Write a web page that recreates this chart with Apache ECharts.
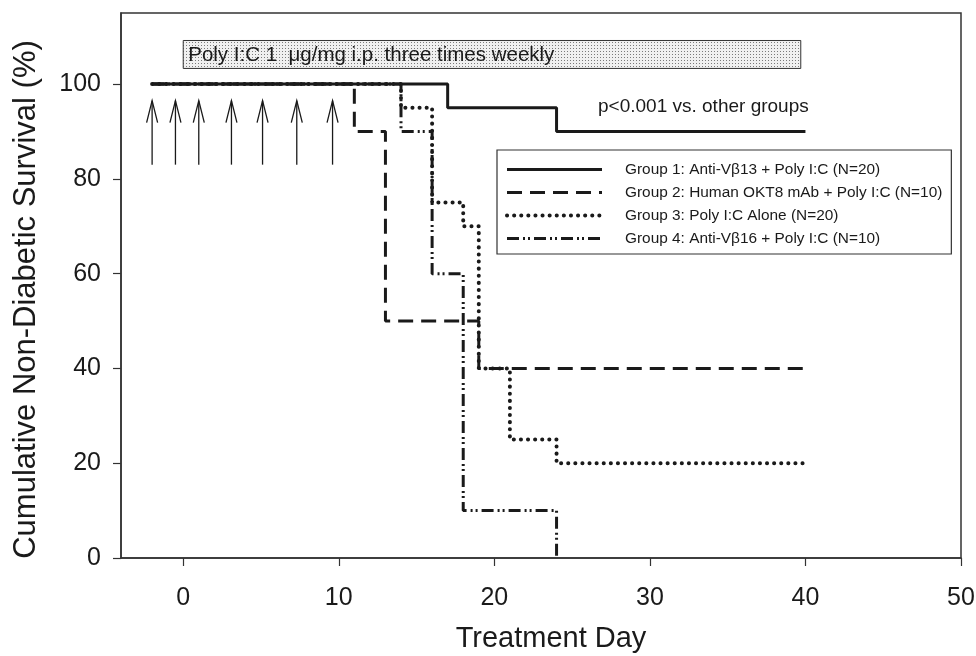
<!DOCTYPE html>
<html>
<head>
<meta charset="utf-8">
<script src="https://cdn.jsdelivr.net/npm/echarts@6/dist/echarts.min.js"></script>
<style>
  html, body { margin: 0; padding: 0; background: #fff; }
  #chart { width: 976px; height: 656px; }
</style>
</head>
<body>
<div id="chart"></div>
<script>
// Kaplan-Meier style steps: day where each level starts, and the level (%)
const groupNames = [
  'Group 1: Anti-V\u03b213 + Poly I:C (N=20)',
  'Group 2: Human OKT8 mAb + Poly I:C (N=10)',
  'Group 3: Poly I:C Alone (N=20)',
  'Group 4: Anti-V\u03b216 + Poly I:C (N=10)'
];
const g1Days = [-2, 17, 24, 40];
const g1Surv = [100, 95, 90, 90];
const g2Days = [-2, 11, 13, 19, 40];
const g2Surv = [100, 90, 50, 40, 40];
const g3Days = [-2, 14, 16, 18, 19, 21, 24, 40];
const g3Surv = [100, 95, 75, 70, 40, 25, 20, 20];
const g4Days = [-2, 14, 16, 18, 24];
const g4Surv = [100, 90, 60, 10, 0];

// poly I:C injections (arrows) and the treatment bar
const injectionDays = [-2, -0.5, 1, 3.1, 5.1, 7.3, 9.6];
const arrowRange = [83, 96.5];
const treatBar = [0, 39.7, 103.3, 109.2];
const treatText = 'Poly I:C 1  \u03bcg/mg i.p. three times weekly';
const pText = 'p<0.001 vs. other groups';

const xTicks = [0, 10, 20, 30, 40, 50];
const yTicks = [0, 20, 40, 60, 80, 100];

const ink = '#1a1a1a';
const font = 'Liberation Sans, Arial, sans-serif';

const lineStyles = [
  { color: ink, width: 3, type: 'solid' },
  { color: ink, width: 3, type: [15, 8] },
  { color: ink, width: 4, type: [0.1, 7], cap: 'round' },
  { color: ink, width: 3, type: [12, 4, 2, 3, 2, 4] }
];

function pairs(days, surv) {
  return days.map((d, i) => [d, surv[i]]);
}

// stippled fill for the treatment bar
const stipple = document.createElement('canvas');
stipple.width = 3; stipple.height = 3;
(function () {
  const c = stipple.getContext('2d');
  c.fillStyle = '#f0f0f0';
  c.fillRect(0, 0, 3, 3);
  c.fillStyle = '#7a7a7a';
  c.fillRect(0, 0, 1, 1);
})();

const chart = echarts.init(document.getElementById('chart'));

const stepSeries = [
  pairs(g1Days, g1Surv),
  pairs(g2Days, g2Surv),
  pairs(g3Days, g3Surv),
  pairs(g4Days, g4Surv)
].map((data, i) => ({
  name: groupNames[i],
  type: 'line',
  step: 'end',
  symbol: 'none',
  data: data,
  lineStyle: lineStyles[i],
  itemStyle: { color: ink },
  animation: false,
  z: 3
}));

const option = {
  animation: false,
  grid: {
    left: 121, right: 15, top: 13, bottom: 98,
    outerBoundsMode: 'none',
    show: true, borderColor: '#333', borderWidth: 1.5
  },
  xAxis: {
    type: 'value',
    min: -4, max: 50,
    name: 'Treatment Day',
    nameLocation: 'middle',
    nameGap: 66,
    nameTextStyle: { fontSize: 29, color: ink, fontFamily: font, padding: [0, 0, 0, 20] },
    splitLine: { show: false },
    axisLine: { onZero: false, lineStyle: { color: '#333', width: 1.5 } },
    axisTick: { customValues: xTicks, length: 8, lineStyle: { color: '#333', width: 1.2 } },
    axisLabel: { customValues: xTicks, margin: 28, fontSize: 25, color: ink, fontFamily: font }
  },
  yAxis: {
    type: 'value',
    min: 0, max: 115,
    name: 'Cumulative Non-Diabetic Survival (%)',
    nameLocation: 'middle',
    nameGap: 79,
    nameTextStyle: { fontSize: 31, color: ink, fontFamily: font, padding: [0, 28, 0, 0] },
    splitLine: { show: false },
    axisLine: { onZero: false, lineStyle: { color: '#333', width: 1.5 } },
    axisTick: { customValues: yTicks, length: 8, lineStyle: { color: '#333', width: 1.2 } },
    axisLabel: { customValues: yTicks, margin: 20, fontSize: 25, color: ink, fontFamily: font }
  },
  legend: {
    orient: 'vertical',
    left: 497, top: 150,
    padding: [12, 9, 8, 8],
    itemWidth: 95, itemHeight: 16, itemGap: 8,
    borderColor: '#333', borderWidth: 1.2,
    backgroundColor: '#fff',
    textStyle: { fontSize: 15.4, color: ink, fontFamily: font, padding: [0, 0, 0, 18] },
    data: groupNames.map((n, i) => ({
      name: n,
      lineStyle: lineStyles[i],
      itemStyle: { opacity: 0 }
    })),
    selectedMode: false
  },
  graphic: [{
    type: 'text',
    left: 598, top: 97,
    style: { text: pText, fontSize: 19, fill: ink, fontFamily: font }
  }],
  series: stepSeries.concat([
    {
      type: 'custom',
      name: 'treatment',
      data: [treatBar],
      renderItem: function (params, api) {
        const p0 = api.coord([api.value(0), api.value(3)]);
        const p1 = api.coord([api.value(1), api.value(2)]);
        return {
          type: 'group',
          children: [{
            type: 'rect',
            shape: { x: p0[0], y: p0[1], width: p1[0] - p0[0], height: p1[1] - p0[1] },
            style: { fill: { image: stipple, repeat: 'repeat' }, stroke: '#333', lineWidth: 1 }
          }, {
            type: 'text',
            x: p0[0] + 5, y: (p0[1] + p1[1]) / 2 + 1,
            style: { text: treatText, fontSize: 20.5, fill: ink, fontFamily: font, verticalAlign: 'middle' }
          }]
        };
      },
      z: 2
    },
    {
      type: 'custom',
      name: 'injections',
      data: injectionDays.map(d => [d, arrowRange[0], arrowRange[1]]),
      renderItem: function (params, api) {
        const b = api.coord([api.value(0), api.value(1)]);
        const t = api.coord([api.value(0), api.value(2)]);
        return {
          type: 'group',
          children: [{
            type: 'line',
            shape: { x1: b[0], y1: b[1], x2: t[0], y2: t[1] },
            style: { stroke: ink, lineWidth: 1.3 }
          }, {
            type: 'polyline',
            shape: { points: [[t[0] - 5.5, t[1] + 22], [t[0], t[1]], [t[0] + 5.5, t[1] + 22]] },
            style: { stroke: ink, lineWidth: 1.3, fill: null }
          }]
        };
      },
      z: 2
    }
  ])
};

chart.setOption(option);
</script>
</body>
</html>
